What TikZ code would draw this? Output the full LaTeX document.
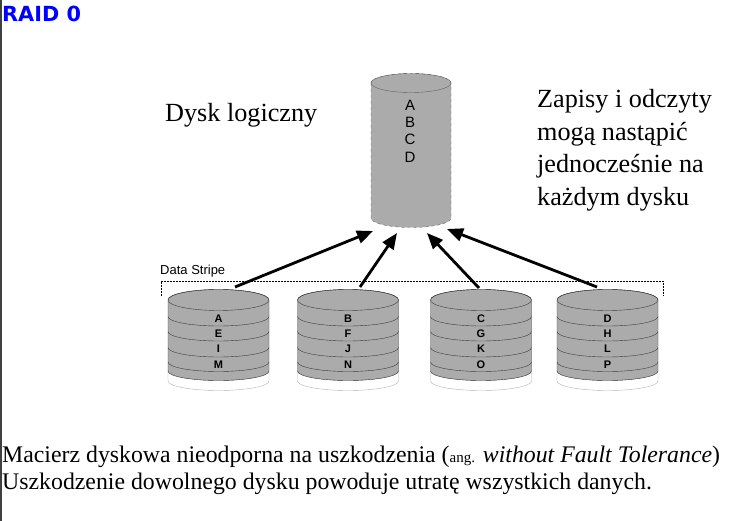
\documentclass[tikz,border=0pt]{standalone}
\usepackage{fontspec}
\setmainfont{Liberation Serif}
\newfontfamily\arialfont{Liberation Sans}
\newfontfamily\comicfont{DejaVu Sans}
\usetikzlibrary{arrows.meta}

\definecolor{diskgray}{RGB}{171,171,171}
\definecolor{diskline}{RGB}{60,60,60}
\definecolor{edgegray}{RGB}{100,100,100}

\tikzset{
  bigtext/.style={anchor=base west, inner sep=0pt, font=\fontsize{26.2}{26.2}\selectfont},
  bodytext/.style={anchor=base west, inner sep=0pt, font=\fontsize{23.8}{23.8}\selectfont},
  disklabel/.style={inner sep=0pt, font=\arialfont\bfseries\fontsize{11}{11}\selectfont},
  biglabel/.style={inner sep=0pt, font=\arialfont\fontsize{15}{15}\selectfont},
  flow/.style={line width=2.8pt, -{Triangle[length=16pt,width=13pt]}}
}

\begin{document}
\begin{tikzpicture}[x=1pt,y=1pt]
  \useasboundingbox (0,0) rectangle (732,-521);
  \draw[line width=2pt, black!75] (1,0) -- (1,-521);

  \node[anchor=base west, inner sep=0pt, text=blue, font=\comicfont\bfseries\fontsize{20.8}{20.8}\selectfont] (title) at (2,-22) {RAID 0};

  % dysk logiczny
  \filldraw[fill=diskgray, draw=edgegray, dashed, thin] (371,-83) -- (371,-218)
    arc[start angle=180, end angle=360, x radius=40, y radius=9.5] -- (451,-83)
    arc[start angle=0, end angle=180, x radius=40, y radius=9.5] -- cycle;
  \draw[edgegray, thin] (411,-83) ellipse[x radius=40, y radius=9.5];
  \foreach \l [count=\k] in {A,B,C,D}
    \node[biglabel] (log\l) at (410,-87.7-17.3*\k) {\l};

  \node[bigtext] (logical) at (165,-122) {Dysk logiczny};
  \foreach \t [count=\k] in {Zapisy i odczyty, mogą nastąpić, jednocześnie na, każdym dysku}
    \node[bigtext] (note\k) at (537,-75.5-32.5*\k) {\t};

  % pasek danych
  \node[anchor=base west, inner sep=0pt, font=\arialfont\fontsize{13}{13}\selectfont] (stripe) at (160,-275) {Data Stripe};
  \draw[semithick, dash pattern=on 2pt off 1pt] (161,-296) -- (161,-281) -- (663,-281) -- (663,-296);

  \foreach \cx/\la/\lb/\lc/\ld [count=\i] in {218.5/A/E/I/M, 348/B/F/J/N, 481/C/G/K/O, 607.5/D/H/L/P} {
    \filldraw[fill=white, draw=gray!60] (\cx-50.5,-371) -- (\cx-50.5,-381)
      arc[start angle=180, end angle=360, x radius=50.5, y radius=9.5] -- (\cx+50.5,-371)
      arc[start angle=360, end angle=180, x radius=50.5, y radius=9.5] -- cycle;
    \filldraw[fill=diskgray, draw=diskline] (\cx-50.5,-300) -- (\cx-50.5,-371)
      arc[start angle=180, end angle=360, x radius=50.5, y radius=9.5] -- (\cx+50.5,-300)
      arc[start angle=0, end angle=180, x radius=50.5, y radius=10.5] -- cycle;
    \draw[diskline] (\cx,-300) ellipse[x radius=50.5, y radius=10.5];
    \foreach \y in {316.5,331.5,347.5,362}
      \draw[diskline] (\cx-50.5,-\y) arc[start angle=180, end angle=360, x radius=50.5, y radius=9.5];
    \node[disklabel] (\la) at (\cx,-318.5) {\la};
    \node[disklabel] (\lb) at (\cx,-333.5) {\lb};
    \node[disklabel] (\lc) at (\cx,-349) {\lc};
    \node[disklabel] (\ld) at (\cx,-364.5) {\ld};
  }

  \coordinate (s1) at (235,-287);
  \coordinate (s2) at (360,-287);
  \coordinate (s3) at (479,-288);
  \coordinate (s4) at (597,-287);
  \coordinate (t1) at (373,-231);
  \coordinate (t2) at (397,-233);
  \coordinate (t3) at (427,-233);
  \coordinate (t4) at (447,-229);
  \foreach \i in {1,...,4}
    \draw[flow] (s\i) -- (t\i);

  \node[bodytext] (line1) at (2,-463)
    {Macierz dyskowa nieodporna na uszkodzenia ({\fontsize{15}{15}\selectfont ang.} \textit{without Fault Tolerance})};
  \node[bodytext] (line2) at (2,-490)
    {Uszkodzenie dowolnego dysku powoduje utratę wszystkich danych.};
\end{tikzpicture}
\end{document}
